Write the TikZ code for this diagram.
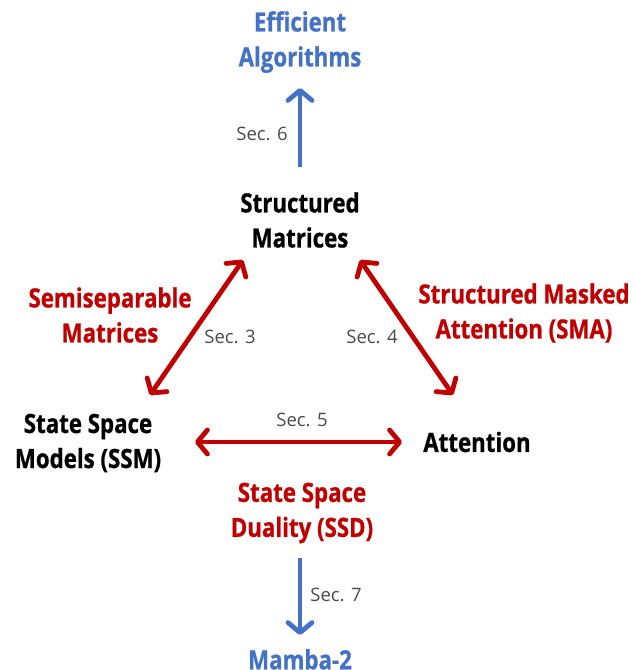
\documentclass[tikz,border=0pt]{standalone}
\usepackage{fontspec}
\setmainfont{Open Sans}
\newfontfamily\condbold[FakeStretch=0.84,FakeBold=0.8]{Open Sans Bold}
\newfontfamily\secfont{Open Sans}
\usetikzlibrary{arrows.meta}
\definecolor{myred}{HTML}{C00000}
\definecolor{myblue}{HTML}{4472C4}
\definecolor{mygray}{HTML}{4A4A4A}
\begin{document}
\begin{tikzpicture}[x=1pt,y=-1pt,
  lbl/.style={font=\condbold\fontsize{26.5}{35}\selectfont, align=center, inner sep=0pt},
  redlbl/.style={lbl, text=myred},
  bluelbl/.style={lbl, text=myblue},
  blacklbl/.style={lbl, text=black},
  sec/.style={font=\secfont\fontsize{18.5}{22}\selectfont, text=mygray, inner sep=0pt},
  redarrow/.style={draw=myred, line width=4.8pt, {Straight Barb[round,length=10pt,width=24pt]}-{Straight Barb[round,length=10pt,width=24pt]}},
  bluearrow/.style={draw=myblue, line width=4.8pt, -{Straight Barb[round,length=10pt,width=24pt]}}
]
\useasboundingbox (0,0) rectangle (633,670);
% labels
\node[bluelbl] (ea) at (300,42) {Efficient\\Algorithms};
\node[blacklbl] (sm) at (300,220) {Structured\\Matrices};
\node[redlbl] (semi) at (110,315) {Semiseparable\\Matrices};
\node[redlbl] (sma) at (524,313) {Structured Masked\\Attention (SMA)};
\node[blacklbl] (ssm) at (88,443) {State Space\\Models (SSM)};
\node[blacklbl] (att) at (477,442) {Attention};
\node[redlbl] (ssd) at (302,513) {State Space\\Duality (SSD)};
\node[bluelbl, anchor=north] (mamba) at (300,649) {Mamba-2};
% section labels
\node[sec] (s6) at (262,134) {Sec. 6};
\node[sec] (s3) at (230,337) {Sec. 3};
\node[sec] (s4) at (372,337) {Sec. 4};
\node[sec] (s5) at (302,420) {Sec. 5};
\node[sec] (s7) at (336,595) {Sec. 7};
% arrow end points
\coordinate (eaIn) at (300,88);
\coordinate (smOut) at (300,167);
\coordinate (smL) at (243,260);
\coordinate (ssmU) at (150,395);
\coordinate (smR) at (360,260);
\coordinate (attU) at (453,395);
\coordinate (ssmR) at (195,442);
\coordinate (attL) at (402,442);
\coordinate (ssdOut) at (300,558);
\coordinate (mambaIn) at (300,635);
% connectors
\draw[bluearrow] (smOut) -- (eaIn);
\draw[redarrow] (ssmU) -- (smL);
\draw[redarrow] (smR) -- (attU);
\draw[redarrow] (ssmR) -- (attL);
\draw[bluearrow] (ssdOut) -- (mambaIn);
\end{tikzpicture}
\end{document}
